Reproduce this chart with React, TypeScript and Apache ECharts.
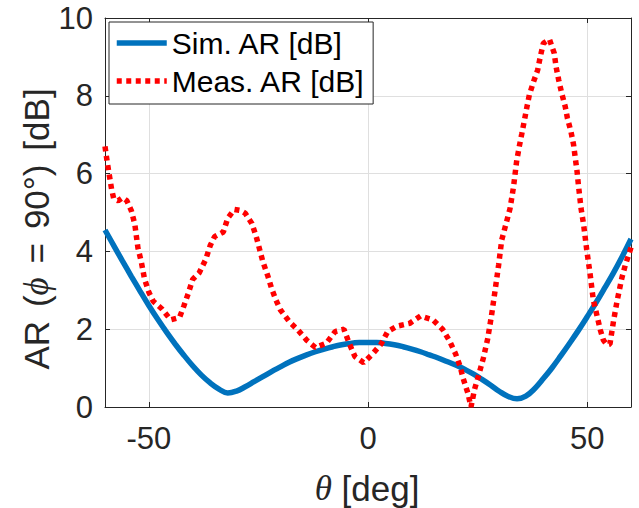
import React, { useEffect, useRef } from "react";
import * as echarts from "echarts";

const xTicks = [-50, 0, 50];
const yTicks = [0, 2, 4, 6, 8, 10];
const seriesNames = ["Sim. AR [dB]", "Meas. AR [dB]"];

const simTheta = [-60, -58, -56, -54, -52, -50, -48, -46, -44, -42, -40, -38, -36, -34, -32, -30, -28, -26, -24, -22, -20, -18, -16, -14, -12, -10, -8, -6, -4, -2, 0, 2, 4, 6, 8, 10, 12, 14, 16, 18, 20, 22, 24, 26, 28, 30, 32, 34, 36, 38, 40, 42, 44, 46, 48, 50, 52, 54, 56, 58, 60];
const simAR = [4.55, 4.15, 3.75, 3.36, 2.98, 2.61, 2.26, 1.93, 1.62, 1.33, 1.06, 0.82, 0.62, 0.46, 0.36, 0.41, 0.52, 0.65, 0.78, 0.91, 1.03, 1.15, 1.25, 1.34, 1.42, 1.49, 1.55, 1.6, 1.635, 1.655, 1.66, 1.655, 1.635, 1.6, 1.55, 1.49, 1.42, 1.34, 1.26, 1.17, 1.08, 0.97, 0.85, 0.71, 0.56, 0.4, 0.27, 0.21, 0.28, 0.47, 0.73, 1.01, 1.32, 1.64, 1.97, 2.32, 2.68, 3.06, 3.45, 3.87, 4.32];

const measTheta = [
  -60, -59.5, -59, -58.5, -58, -57, -56, -55, -54, -53.2,
  -52.5, -51.7, -51, -50, -49, -47, -45, -43, -42, -41,
  -40, -38.5, -37, -36, -35, -33, -32, -30.5, -29, -28,
  -26.5, -25.5, -24.7, -24, -22.8, -22, -21, -20, -18, -16,
  -14, -12, -9.5, -7.5, -5.5, -4.3, -3, -1, 1, 3,
  4.5, 6.7, 9.5, 12, 14.8, 17, 18.6, 20, 21, 21.7,
  22.8, 23.5, 24.3, 25.2, 26.3, 27.3, 28.2, 29, 29.8, 30.5,
  31.3, 32.4, 33.2, 33.9, 34.5, 35.1, 35.7, 36.2, 36.8, 37.7,
  38.7, 39.3, 40, 41.4, 42.5, 42.9, 43.5, 44.2, 45, 45.5,
  46.3, 46.9, 47.3, 47.7, 48, 48.6, 49.2, 49.9, 50.7, 51.4,
  52.2, 53, 53.7, 54.5, 55.2, 56, 56.8, 57.9, 58.7, 59.7,
  60,
];
const measAR = [
  6.7, 6.3, 5.95, 5.6, 5.35, 5.3, 5.38, 5.3, 5.05, 4.7,
  4.1, 3.72, 3.3, 2.95, 2.72, 2.52, 2.24, 2.3, 2.6, 2.92,
  3.28, 3.45, 3.8, 4.15, 4.38, 4.5, 4.85, 5.08, 5.05, 4.98,
  4.72, 4.38, 4.04, 3.74, 3.35, 3.05, 2.75, 2.5, 2.2, 1.98,
  1.72, 1.53, 1.64, 1.94, 2.0, 1.64, 1.3, 1.14, 1.36, 1.62,
  1.94, 2.08, 2.15, 2.34, 2.24, 2.0, 1.7, 1.36, 1.05, 0.74,
  0.35, 0.0, 0.45, 0.8, 1.25, 1.75, 2.37, 3.0, 3.65, 4.29,
  4.63, 5.1, 5.66, 6.31, 6.69, 7.03, 7.38, 7.68, 8.02, 8.34,
  8.66, 9.0, 9.35, 9.45, 9.09, 8.75, 8.41, 8.06, 7.72, 7.42,
  7.08, 6.74, 6.39, 6.05, 5.71, 5.11, 4.68, 4.04, 3.39, 2.75,
  2.37, 1.98, 1.72, 1.6, 1.62, 2.2, 2.71, 3.31, 3.65, 3.99,
  4.1,
];

export default function App() {
  const ref = useRef<HTMLDivElement>(null);
  useEffect(() => {
    const chart = echarts.init(ref.current!, null, { renderer: "svg" });
    const axisColor = "#262626";
    const gridColor = "#dfdfdf";
    const font = "'Liberation Sans', Arial, Helvetica, sans-serif";
    const serif = "'Liberation Serif', 'Times New Roman', serif";
    const sideAxis = (pos: string) => ({
      axisLine: { show: true, onZero: false, lineStyle: { color: axisColor, width: 1 } },
      position: pos,
    });
    const titleRich = {
      n: { fontSize: 35, fontFamily: font, fill: axisColor, color: axisColor },
      s: { fontSize: 50, fontFamily: font, fill: axisColor, color: axisColor },
      i: { fontSize: 35, fontFamily: serif, fontStyle: "italic", fill: axisColor, color: axisColor },
    };
    chart.setOption({
      animation: false,
      backgroundColor: "#ffffff",
      textStyle: { fontFamily: font },
      grid: { left: 105, right: 8, top: 18, bottom: 101, containLabel: false },
      xAxis: [
        {
          type: "value", min: -60, max: 60, ...sideAxis("bottom"),
          axisTick: { show: true, inside: true, length: 5, customValues: xTicks, lineStyle: { color: axisColor } },
          axisLabel: { customValues: xTicks, color: axisColor, fontSize: 31, margin: 16, fontFamily: font },
          splitLine: { show: true, lineStyle: { color: gridColor, width: 1 } },
        },
        {
          type: "value", min: -60, max: 60, ...sideAxis("top"),
          axisTick: { show: true, inside: true, length: 5, customValues: xTicks, lineStyle: { color: axisColor } },
          axisLabel: { show: false },
          splitLine: { show: false },
        },
      ],
      yAxis: [
        {
          type: "value", min: 0, max: 10, interval: 2, ...sideAxis("left"),
          axisTick: { show: true, inside: true, length: 5, customValues: yTicks, lineStyle: { color: axisColor } },
          axisLabel: { customValues: yTicks, color: axisColor, fontSize: 31, margin: 12, fontFamily: font },
          splitLine: { show: true, lineStyle: { color: gridColor, width: 1 } },
        },
        {
          type: "value", min: 0, max: 10, interval: 2, ...sideAxis("right"),
          axisTick: { show: true, inside: true, length: 5, customValues: yTicks, lineStyle: { color: axisColor } },
          axisLabel: { show: false },
          splitLine: { show: false },
        },
      ],
      legend: {
        orient: "vertical",
        left: 109,
        top: 22,
        padding: [3, 8, 5, 5],
        itemGap: 2,
        itemWidth: 50,
        itemHeight: 14,
        backgroundColor: "#ffffff",
        borderColor: axisColor,
        borderWidth: 1,
        borderRadius: 0,
        itemStyle: { color: "rgba(0,0,0,0)", borderColor: "rgba(0,0,0,0)", borderWidth: 0, opacity: 0 },
        lineStyle: { width: 5.5 },
        textStyle: { fontSize: 30, color: "#000000", fontFamily: font, lineHeight: 36 },
        data: seriesNames,
      },
      series: [
        {
          name: seriesNames[0],
          type: "line",
          xAxisIndex: 0,
          yAxisIndex: 0,
          data: simTheta.map((t, i) => [t, simAR[i]]),
          symbol: "none",
          showSymbol: false,
          smooth: 0.4,
          lineStyle: { color: "#0072BD", width: 5.5 },
          itemStyle: { color: "#0072BD" },
          z: 2,
        },
        {
          name: seriesNames[1],
          type: "line",
          xAxisIndex: 0,
          yAxisIndex: 0,
          data: measTheta.map((t, i) => [t, measAR[i]]),
          symbol: "none",
          showSymbol: false,
          lineStyle: { color: "#FF0000", width: 5.5, type: [5, 4.5], cap: "butt" },
          itemStyle: { color: "#FF0000" },
          z: 3,
        },
      ],
      graphic: [
        {
          type: "text",
          x: 36,
          y: 229,
          rotation: Math.PI / 2,
          style: {
            text: "{n|AR}{s| }{n|(}{i|ϕ}{s| }{n|=}{s| }{n|90°)}{s| }{n|[dB]}",
            align: "center",
            verticalAlign: "middle",
            fill: axisColor,
            rich: titleRich,
          },
        },
        {
          type: "text",
          x: 367,
          y: 488,
          style: {
            text: "{i|θ}{n| [deg]}",
            align: "center",
            verticalAlign: "middle",
            fill: axisColor,
            rich: titleRich,
          },
        },
      ],
    });
    return () => chart.dispose();
  }, []);
  return <div ref={ref} style={{ position: "fixed", left: 0, top: 0, width: 639, height: 508 }} />;
}
